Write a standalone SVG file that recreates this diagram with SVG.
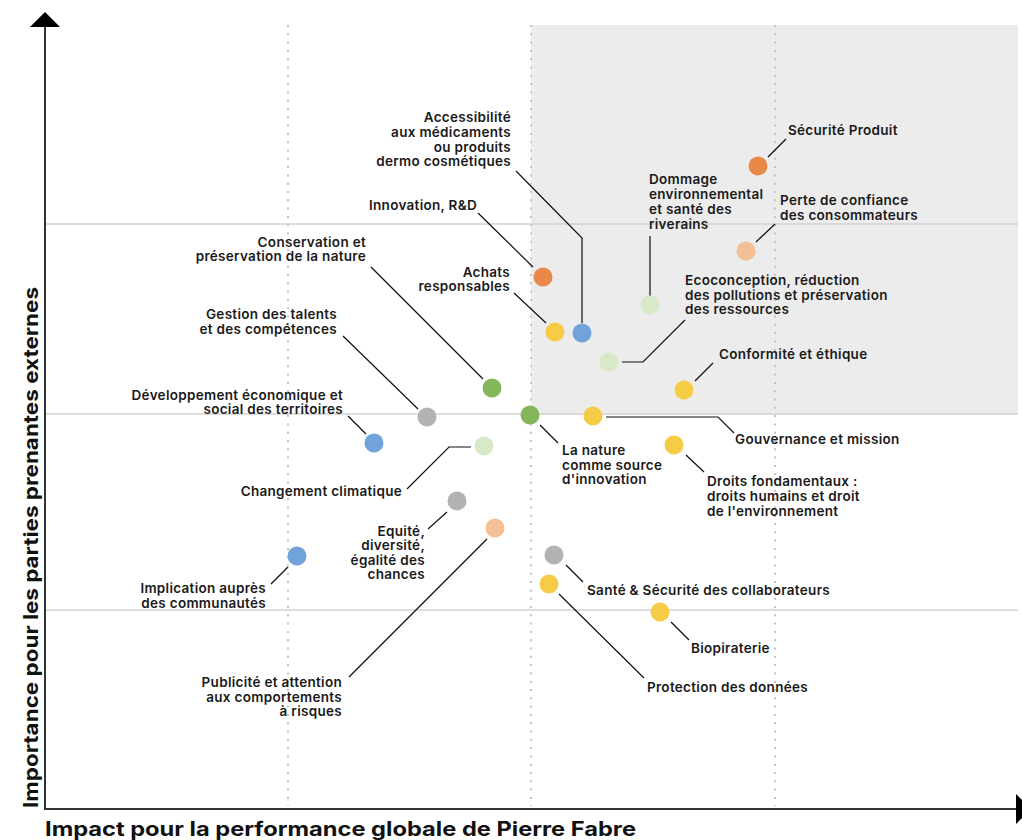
<svg xmlns="http://www.w3.org/2000/svg" width="1022" height="840" viewBox="0 0 1022 840">
<style>
.lbl{font-family:Inter,"Open Sans","Liberation Sans",sans-serif;font-weight:600;font-size:13.5px;letter-spacing:0.3px;fill:#1a1a1a}
.e{text-anchor:end}
.ax{font-family:Inter,"Open Sans","Liberation Sans",sans-serif;font-weight:700;font-size:20px;fill:#111}
.grid{stroke:#d2d2d2;stroke-width:1.5;fill:none}
.dot{stroke:#c4c4c4;stroke-width:2;stroke-dasharray:2 6.3;fill:none}
.ld{stroke:#111;stroke-width:1.2;fill:none}
.orange{fill:#e8894a}.lorange{fill:#f3bf95}.yellow{fill:#f6cb45}.blue{fill:#6fa3d9}.green{fill:#86b65a}.lgreen{fill:#d7e9c8}.gray{fill:#b2b2b2}
</style>
<rect width="1022" height="840" fill="#fff"/>
<g id="background">
<rect x="531" y="25" width="487" height="389" fill="#ececec"/>
<line class="grid" x1="45" y1="224" x2="1018" y2="224"/>
<line class="grid" x1="45" y1="414" x2="1018" y2="414"/>
<line class="grid" x1="45" y1="610" x2="1018" y2="610"/>
<line class="dot" x1="288" y1="25" x2="288" y2="806"/>
<line class="dot" x1="531" y1="25" x2="531" y2="806"/>
<line class="dot" x1="775" y1="25" x2="775" y2="806"/>
</g>
<g id="axes">
<line x1="45" y1="26" x2="45" y2="809" stroke="#333" stroke-width="2"/>
<polygon points="30,27 45,12 60,27" fill="#000"/>
<line x1="44" y1="809" x2="1017" y2="809" stroke="#333" stroke-width="2"/>
<polygon points="1016,794 1031,809 1016,824" fill="#000"/>
<text class="ax" x="45" y="836" textLength="591" lengthAdjust="spacingAndGlyphs">Impact pour la performance globale de Pierre Fabre</text>
<text class="ax" transform="translate(38,808) rotate(-90)" x="0" y="0" textLength="521" lengthAdjust="spacingAndGlyphs">Importance pour les parties prenantes externes</text>
</g>
<g id="connectors">
<polyline class="ld" points="768,157 786,139"/>
<polyline class="ld" points="756,242 775,224"/>
<polyline class="ld" points="650,296 650,236"/>
<polyline class="ld" points="533,267 478,213"/>
<polyline class="ld" points="582,323 582,238 516,171"/>
<polyline class="ld" points="546,323 514,293"/>
<polyline class="ld" points="622,362 643,362 685,320"/>
<polyline class="ld" points="695,381 713,363"/>
<polyline class="ld" points="483,379 371,267"/>
<polyline class="ld" points="418,409 343,336"/>
<polyline class="ld" points="366,434 348,416"/>
<polyline class="ld" points="540,425 558,443"/>
<polyline class="ld" points="606,417 718,417 734,433"/>
<polyline class="ld" points="686,455 704,472"/>
<polyline class="ld" points="471,447 449,447 407,489"/>
<polyline class="ld" points="447,512 428,529"/>
<polyline class="ld" points="487,539 349,677"/>
<polyline class="ld" points="288,567 271,584"/>
<polyline class="ld" points="566,565 583,582"/>
<polyline class="ld" points="559,594 644,678"/>
<polyline class="ld" points="671,622 689,640"/>
</g>
<g id="n-securite-produit"><circle class="orange" cx="758" cy="166" r="9.5"/><text class="lbl" x="788" y="135">Sécurité Produit</text></g>
<g id="n-perte-confiance"><circle class="lorange" cx="746" cy="251" r="9.5"/><text class="lbl" x="780" y="205">Perte de confiance</text><text class="lbl" x="780" y="220">des consommateurs</text></g>
<g id="n-dommage"><circle class="lgreen" cx="650" cy="305" r="9.5"/><text class="lbl" x="649" y="184">Dommage</text><text class="lbl" x="649" y="199">environnemental</text><text class="lbl" x="649" y="214">et santé des</text><text class="lbl" x="649" y="229">riverains</text></g>
<g id="n-innovation"><circle class="orange" cx="543" cy="277" r="9.5"/><text class="lbl e" x="477" y="210">Innovation, R&amp;D</text></g>
<g id="n-accessibilite"><circle class="blue" cx="582" cy="333" r="9.5"/><text class="lbl e" x="511" y="122">Accessibilité</text><text class="lbl e" x="511" y="137">aux médicaments</text><text class="lbl e" x="511" y="152">ou produits</text><text class="lbl e" x="511" y="166">dermo cosmétiques</text></g>
<g id="n-achats"><circle class="yellow" cx="555" cy="332" r="9.5"/><text class="lbl e" x="510" y="277">Achats</text><text class="lbl e" x="510" y="291">responsables</text></g>
<g id="n-conservation"><circle class="green" cx="492" cy="388" r="9.5"/><text class="lbl e" x="366" y="247">Conservation et</text><text class="lbl e" x="366" y="261">préservation de la nature</text></g>
<g id="n-ecoconception"><circle class="lgreen" cx="609" cy="362" r="9.5"/><text class="lbl" x="685" y="285">Ecoconception, réduction</text><text class="lbl" x="685" y="300">des pollutions et préservation</text><text class="lbl" x="685" y="314">des ressources</text></g>
<g id="n-conformite"><circle class="yellow" cx="684" cy="390" r="9.5"/><text class="lbl" x="719" y="359">Conformité et éthique</text></g>
<g id="n-gestion-talents"><circle class="gray" cx="427" cy="417" r="9.5"/><text class="lbl e" x="337" y="319">Gestion des talents</text><text class="lbl e" x="337" y="334">et des compétences</text></g>
<g id="n-developpement"><circle class="blue" cx="374" cy="443" r="9.5"/><text class="lbl e" x="343" y="400">Développement économique et</text><text class="lbl e" x="343" y="414">social des territoires</text></g>
<g id="n-nature-innovation"><circle class="green" cx="530" cy="415" r="9.5"/><text class="lbl" x="562" y="455">La nature</text><text class="lbl" x="562" y="470">comme source</text><text class="lbl" x="562" y="484">d'innovation</text></g>
<g id="n-gouvernance"><circle class="yellow" cx="593" cy="416" r="9.5"/><text class="lbl" x="735" y="444">Gouvernance et mission</text></g>
<g id="n-droits"><circle class="yellow" cx="674" cy="445" r="9.5"/><text class="lbl" x="707" y="486">Droits fondamentaux :</text><text class="lbl" x="707" y="501">droits humains et droit</text><text class="lbl" x="707" y="516">de l'environnement</text></g>
<g id="n-changement"><circle class="lgreen" cx="484" cy="446" r="9.5"/><text class="lbl e" x="402" y="496">Changement climatique</text></g>
<g id="n-equite"><circle class="gray" cx="457" cy="501" r="9.5"/><text class="lbl e" x="425" y="536">Equité,</text><text class="lbl e" x="425" y="550">diversité,</text><text class="lbl e" x="425" y="565">égalité des</text><text class="lbl e" x="425" y="579">chances</text></g>
<g id="n-publicite"><circle class="lorange" cx="495" cy="528" r="9.5"/><text class="lbl e" x="342" y="687">Publicité et attention</text><text class="lbl e" x="342" y="702">aux comportements</text><text class="lbl e" x="342" y="716">à risques</text></g>
<g id="n-implication"><circle class="blue" cx="297" cy="556" r="9.5"/><text class="lbl e" x="266" y="593">Implication auprès</text><text class="lbl e" x="266" y="608">des communautés</text></g>
<g id="n-sante-securite"><circle class="gray" cx="554" cy="555" r="9.5"/><text class="lbl" x="587" y="595">Santé &amp; Sécurité des collaborateurs</text></g>
<g id="n-protection"><circle class="yellow" cx="549" cy="584" r="9.5"/><text class="lbl" x="647" y="692">Protection des données</text></g>
<g id="n-biopiraterie"><circle class="yellow" cx="660" cy="612" r="9.5"/><text class="lbl" x="691" y="653">Biopiraterie</text></g>
</svg>
